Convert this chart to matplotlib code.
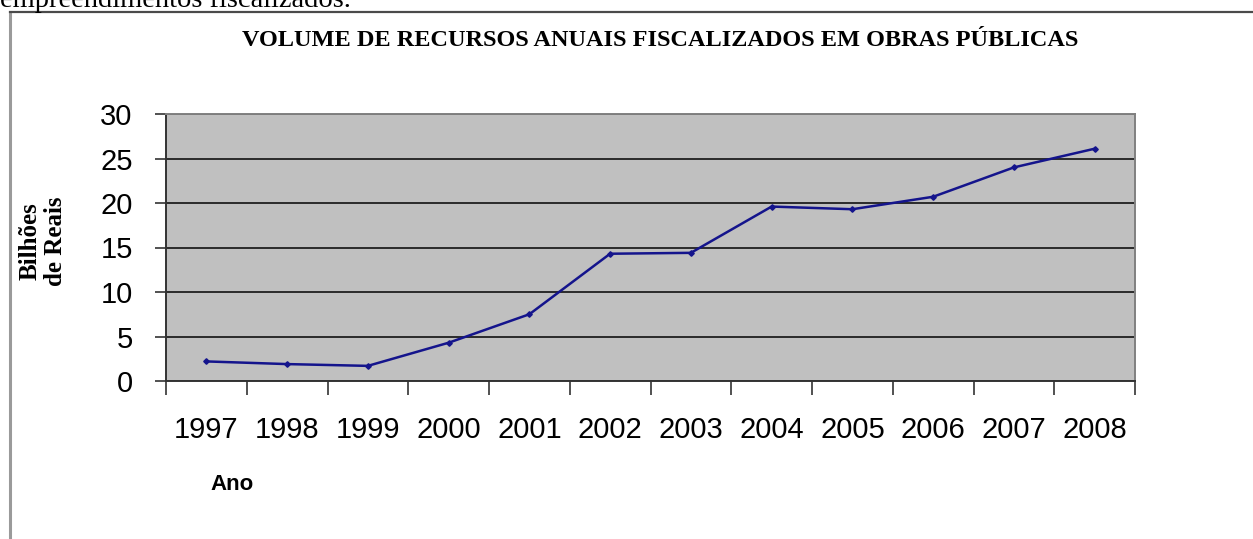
import matplotlib
matplotlib.use("Agg")
import matplotlib.pyplot as plt
from matplotlib.lines import Line2D

# dados (bilhoes de reais por ano)
years = ["1997", "1998", "1999", "2000", "2001", "2002",
         "2003", "2004", "2005", "2006", "2007", "2008"]
values = [2.2, 1.9, 1.7, 4.3, 7.5, 14.3, 14.4, 19.6, 19.3, 20.7, 24.0, 26.1]
y_ticks = [0, 5, 10, 15, 20, 25, 30]

W, H = 1253, 539
fig = plt.figure(figsize=(W / 100, H / 100), dpi=100)
fig.patch.set_facecolor("white")


def fx(px):
    return px / W


def fy(py):
    return 1 - py / H


# moldura externa (so esquerda e topo aparecem)
fig.add_artist(Line2D([fx(10), fx(10)], [0, fy(12)], color="#9a9a9a", lw=2.2))
fig.add_artist(Line2D([fx(10), 1], [fy(12), fy(12)], color="#4a4a4a", lw=1.6))

# linha de texto cortada no topo
fig.text(0.0, fy(7), "empreendimentos fiscalizados.", family="Liberation Serif",
         fontsize=20.5, va="baseline", ha="left", color="black")

ax = fig.add_axes([fx(166), fy(381), fx(1135) - fx(166), fy(114) - fy(381)])
ax.set_facecolor("#c0c0c0")

x = list(range(len(years)))
ax.plot(x, values, color="#14148c", lw=1.8, marker="D", markersize=2.8, zorder=3)

ax.set_xlim(-0.5, len(years) - 0.5)
ax.set_ylim(0, 30)

ax.set_yticks(y_ticks)
ax.set_yticklabels([str(v) for v in y_ticks], family="Liberation Sans", fontsize=21)
ax.tick_params(axis="y", length=8, width=1.2, color="#333333", pad=16)

# ticks nas fronteiras das categorias, rotulos no centro
ax.set_xticks([i - 0.5 for i in range(len(years) + 1)])
ax.set_xticklabels([])
ax.set_xticks(x, minor=True)
ax.set_xticklabels(years, minor=True, family="Liberation Sans", fontsize=21)
ax.tick_params(axis="x", which="major", length=10, width=1.2, color="#333333")
ax.tick_params(axis="x", which="minor", length=0, pad=25)

ax.yaxis.grid(True, color="#2a2a2a", lw=1.4)
ax.set_axisbelow(True)

for side in ["left", "bottom"]:
    ax.spines[side].set_color("#333333")
    ax.spines[side].set_linewidth(1.4)
for side in ["top", "right"]:
    ax.spines[side].set_color("#808080")
    ax.spines[side].set_linewidth(1.4)

fig.text(fx(660), fy(40), "VOLUME DE RECURSOS ANUAIS FISCALIZADOS EM OBRAS PÚBLICAS",
         family="Liberation Serif", fontweight="bold", fontsize=17.5,
         ha="center", va="center")

fig.text(fx(30), fy(241), "Bilhões", family="Liberation Serif", fontweight="bold",
         fontsize=18, rotation=90, ha="center", va="center")
fig.text(fx(55), fy(241), "de Reais", family="Liberation Serif", fontweight="bold",
         fontsize=18, rotation=90, ha="center", va="center")

fig.text(fx(210), fy(484), "Ano", family="Liberation Sans", fontweight="bold",
         fontsize=16, ha="left", va="center")

fig.savefig("out.png", dpi=100)
